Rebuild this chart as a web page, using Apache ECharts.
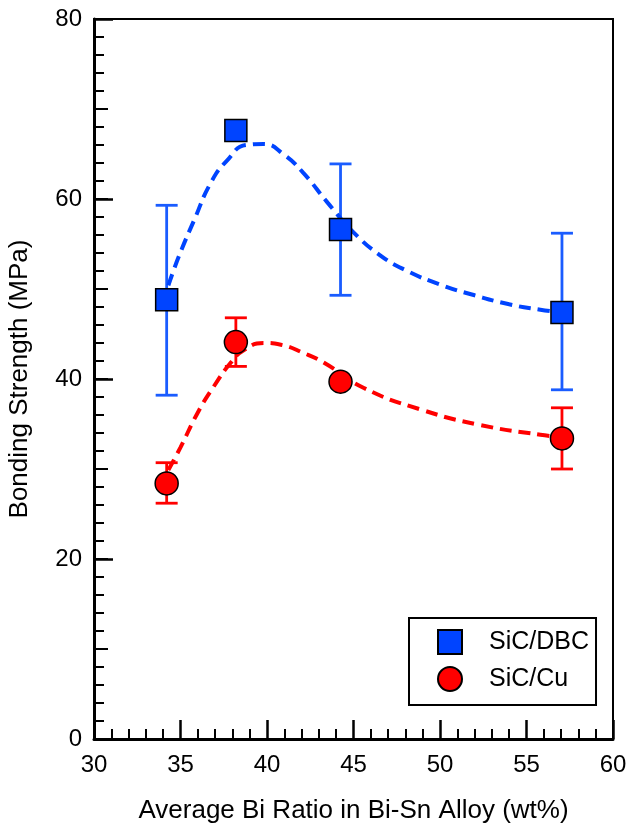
<!DOCTYPE html>
<html>
<head>
<meta charset="utf-8">
<script src="https://cdn.jsdelivr.net/npm/echarts@6/dist/echarts.min.js"></script>
<style>
  html, body { margin: 0; padding: 0; background: #fff; }
  #chart { width: 630px; height: 825px; }
</style>
</head>
<body>
<div id="chart"></div>
<script>
const ratio = [34.2, 38.2, 44.25, 57.05]

// SiC/DBC
const dbcMean = [48.8, 67.6, 56.6, 47.4]
const dbcLow = [38.2, null, 49.3, 38.8]
const dbcHigh = [59.3, null, 63.9, 56.2]

// SiC/Cu
const cuMean = [28.4, 44.1, 39.7, 33.4]
const cuLow = [26.2, 41.4, null, 30.0]
const cuHigh = [30.7, 46.8, null, 36.8]

// fit curves
const dbcFitX = [34.3, 34.9, 35.8, 36.75, 37.7, 38.8, 39.8, 41.0, 42.1, 43.5, 45.0, 46.5, 48.0, 50.0, 52.0, 54.0, 55.8, 57.0]
const dbcFitY = [50.4, 53.6, 57.7, 61.8, 64.3, 66.0, 66.1, 64.9, 62.9, 59.6, 56.3, 53.8, 52.1, 50.5, 49.3, 48.3, 47.7, 47.4]
const cuFitX = [34.3, 35.0, 35.98, 36.9, 37.9, 38.65, 39.8, 40.8, 42.1, 43.3, 45.6, 48.9, 52.3, 55.8, 56.8]
const cuFitY = [29.9, 32.4, 36.2, 39.1, 41.8, 43.2, 44.0, 43.8, 42.9, 41.8, 39.0, 36.6, 34.9, 33.8, 33.6]

const blue = '#0044ff'
const red = '#ff0000'
const font = 'Liberation Sans, Arial, Helvetica, sans-serif'

function pairs(xs, ys) {
  return xs.map((x, i) => [x, ys[i]])
}

function bars(low, high) {
  const out = []
  ratio.forEach((x, i) => {
    if (low[i] != null) out.push([x, low[i], high[i]])
  })
  return out
}

function errorBar(color) {
  return function (params, api) {
    const lo = api.coord([api.value(0), api.value(1)])
    const hi = api.coord([api.value(0), api.value(2)])
    const half = 11
    const style = { stroke: color, lineWidth: 2.8 }
    return {
      type: 'group',
      children: [
        { type: 'line', shape: { x1: lo[0], y1: lo[1], x2: hi[0], y2: hi[1] }, style },
        { type: 'line', shape: { x1: lo[0] - half, y1: lo[1], x2: lo[0] + half, y2: lo[1] }, style },
        { type: 'line', shape: { x1: hi[0] - half, y1: hi[1], x2: hi[0] + half, y2: hi[1] }, style }
      ]
    }
  }
}

const chart = echarts.init(document.getElementById('chart'))

chart.setOption({
  animation: false,
  grid: {
    left: 94, right: 17, top: 19, bottom: 86,
    outerBoundsMode: 'none',
    show: true, borderColor: '#000', borderWidth: 2
  },
  legend: {
    data: ['SiC/DBC', 'SiC/Cu'],
    orient: 'vertical',
    left: 409, top: 618,
    padding: [11, 7, 13, 28],
    itemWidth: 24, itemHeight: 24, itemGap: 11,
    borderColor: '#000', borderWidth: 2,
    backgroundColor: '#fff',
    textStyle: { fontFamily: font, fontSize: 25, color: '#000', padding: [0, 0, 0, 22] }
  },
  xAxis: {
    type: 'value',
    min: 30, max: 60, interval: 5,
    name: 'Average Bi Ratio in Bi-Sn Alloy (wt%)',
    nameLocation: 'middle', nameGap: 59,
    nameTextStyle: { fontFamily: font, fontSize: 26, color: '#000' },
    axisLine: { lineStyle: { color: '#000', width: 3 } },
    axisTick: { inside: true, length: 19, lineStyle: { color: '#000', width: 2.5 } },
    minorTick: { show: true, splitNumber: 5, length: 10, lineStyle: { color: '#000', width: 2 } },
    axisLabel: { fontFamily: font, fontSize: 24, color: '#000', margin: 14 },
    splitLine: { show: false }
  },
  yAxis: [{
    type: 'value',
    min: 0, max: 80, interval: 20,
    name: 'Bonding Strength (MPa)',
    nameLocation: 'middle', nameGap: 61,
    nameTextStyle: { fontFamily: font, fontSize: 26, color: '#000' },
    axisLine: { lineStyle: { color: '#000', width: 3 } },
    axisTick: { inside: true, length: 19, lineStyle: { color: '#000', width: 2.5 } },
    minorTick: { show: true, splitNumber: 10, length: 10, lineStyle: { color: '#000', width: 2 } },
    axisLabel: { fontFamily: font, fontSize: 24, color: '#000', margin: 12 },
    splitLine: { show: false }
  }, {
    // medium ticks every 10
    type: 'value',
    position: 'left',
    min: 0, max: 80, interval: 10,
    axisLine: { show: false },
    axisTick: { inside: true, length: 14, lineStyle: { color: '#000', width: 2 } },
    axisLabel: { show: false },
    splitLine: { show: false }
  }],
  series: [
    {
      name: 'dbcErr', type: 'custom', z: 1,
      renderItem: errorBar('#1a5cff'),
      data: bars(dbcLow, dbcHigh)
    },
    {
      name: 'cuErr', type: 'custom', z: 1,
      renderItem: errorBar(red),
      data: bars(cuLow, cuHigh)
    },
    {
      name: 'dbcFit', type: 'line', smooth: true, showSymbol: false, z: 2,
      lineStyle: { color: blue, width: 4, type: [12, 7] },
      data: pairs(dbcFitX, dbcFitY)
    },
    {
      name: 'cuFit', type: 'line', smooth: true, showSymbol: false, z: 2,
      lineStyle: { color: red, width: 4, type: [12, 7] },
      data: pairs(cuFitX, cuFitY)
    },
    {
      name: 'SiC/DBC', type: 'scatter', z: 3,
      symbol: 'rect', symbolSize: 22,
      itemStyle: { color: blue, borderColor: '#000', borderWidth: 1.5, opacity: 1 },
      data: pairs(ratio, dbcMean)
    },
    {
      name: 'SiC/Cu', type: 'scatter', z: 3,
      symbol: 'circle', symbolSize: 23,
      itemStyle: { color: red, borderColor: '#000', borderWidth: 1.5, opacity: 1 },
      data: pairs(ratio, cuMean)
    }
  ]
})
</script>
</body>
</html>
